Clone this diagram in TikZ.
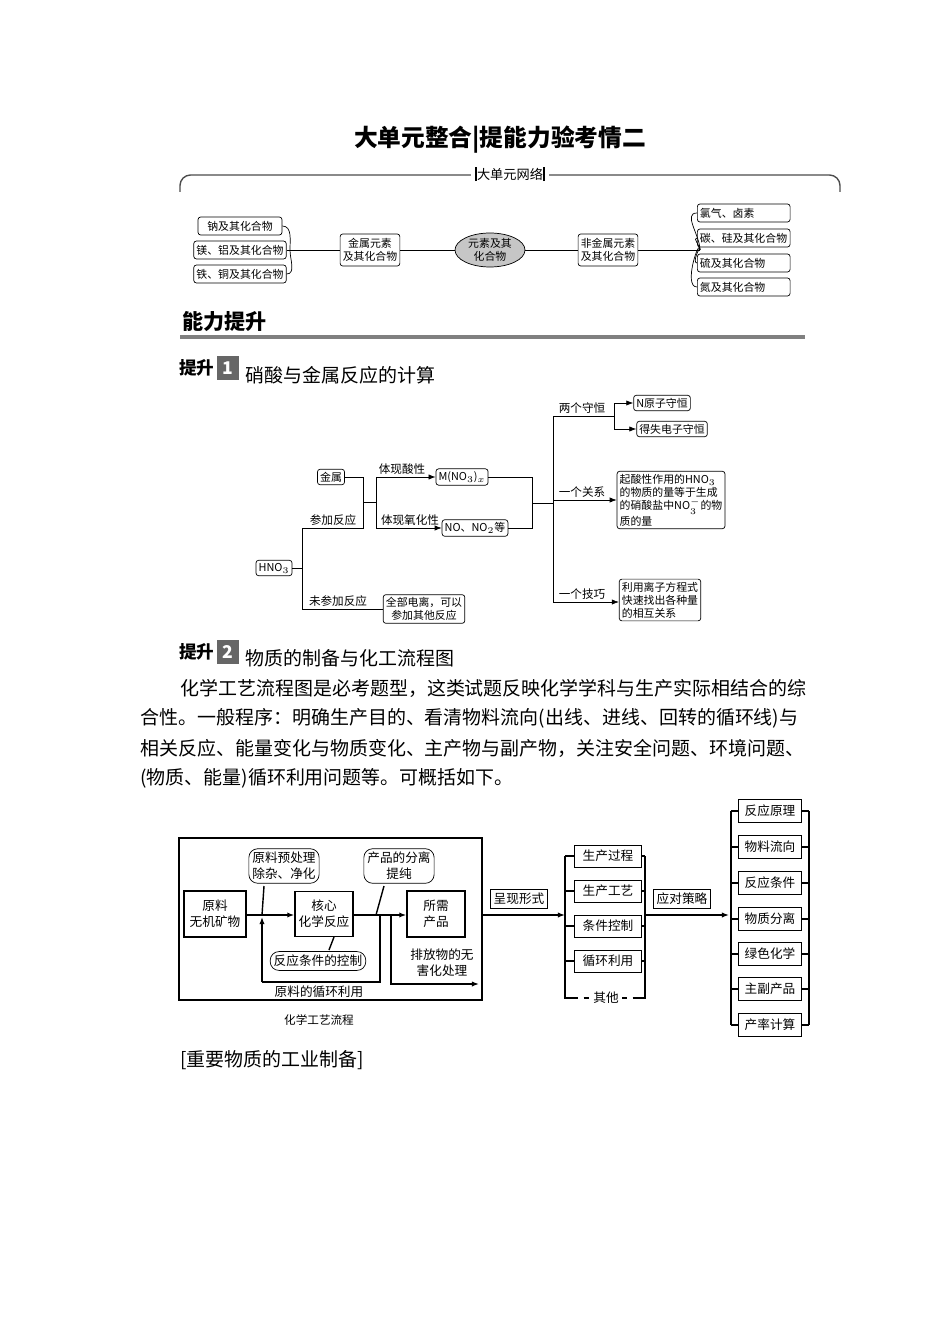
\documentclass[tikz,border=0pt]{standalone}
\usepackage{fontspec}
\setmainfont{Noto Sans CJK SC}
\usetikzlibrary{positioning,shapes.geometric,arrows.meta}

\begin{document}
\begin{tikzpicture}[x=0.02cm,y=-0.02cm,
    box/.style={draw, rounded corners=1.5pt, inner sep=1.5pt, font=\fontsize{6.2}{7.5}\selectfont, align=center},
    fbox/.style={draw, thick, inner sep=2pt, font=\fontsize{7.2}{9}\selectfont, align=center},
    lbl/.style={font=\fontsize{6.6}{8}\selectfont, inner sep=1pt},
    arr/.style={-{Latex[length=4pt,width=3pt]}},
    body/.style={anchor=west, font=\fontsize{10.8}{13}\selectfont, inner sep=0pt}]
  \useasboundingbox (0,0) rectangle (950,1344);

  % Title
  \node[font=\fontsize{13.5}{16}\selectfont\bfseries] (title) at (500,140) {大单元整合|提能力验考情二};

  % Unit network bracket
  \draw[gray!60!black, line width=0.8pt, rounded corners=6pt] (180,192) -- (180,175) -- (840,175) -- (840,192);
  \node[fill=white, font=\fontsize{7.5}{9}\selectfont, inner sep=2pt] (net) at (510,174) {\rule[-1pt]{1.2pt}{8pt}大单元网络\rule[-1pt]{1.2pt}{8pt}};

  % Unit network
  \node[box, minimum width=1.68cm, minimum height=0.36cm] (na) at (240,226) {钠及其化合物};
  \node[box, minimum width=1.68cm, minimum height=0.36cm] (mg) at (240,250) {镁、铝及其化合物};
  \node[box, minimum width=1.68cm, minimum height=0.36cm] (fe) at (240,274) {铁、铜及其化合物};
  \node[box, minimum height=0.64cm] (metal) at (370,250) {金属元素\\及其化合物};
  \node[ellipse, draw, fill=gray!45, minimum width=1.4cm, minimum height=0.68cm, inner sep=0pt, font=\fontsize{6.2}{7.5}\selectfont, align=center] (core) at (490,250) {元素及其\\化合物};
  \node[box, minimum height=0.64cm] (nonmetal) at (608,250) {非金属元素\\及其化合物};
  \node[box, anchor=west, text width=1.75cm, align=left, minimum height=0.36cm] (cl) at (697,213) {氯气、卤素};
  \node[box, anchor=west, text width=1.75cm, align=left, minimum height=0.36cm] (si) at (697,238) {碳、硅及其化合物};
  \node[box, anchor=west, text width=1.75cm, align=left, minimum height=0.36cm] (s) at (697,263) {硫及其化合物};
  \node[box, anchor=west, text width=1.75cm, align=left, minimum height=0.36cm] (n) at (697,287) {氮及其化合物};
  \coordinate (jl) at (290,250);
  \coordinate (jr) at (700,250);
  \draw (na.east) to[out=0,in=90] (jl) to[out=-90,in=0] (fe.east);
  \draw (mg.east) -- (metal.west) (metal.east) -- (core.west) (core.east) -- (nonmetal.west) (nonmetal.east) -- (jr);
  \foreach \b in {cl,si,s,n} \draw (jr) to[out=90,in=180] (\b.west);

  % Ability section
  \node[anchor=west, font=\fontsize{12}{14}\selectfont\bfseries, inner sep=0pt] (ability) at (182,322) {能力提升};
  \draw[gray, line width=2pt] (180,337) -- (805,337);

  % Part 1
  \node[anchor=west, font=\fontsize{10}{12}\selectfont\bfseries, inner sep=0pt] (p1) at (179,368) {提升\,\colorbox{gray!80!black}{\color{white}1}};
  \node[body] (p1t) at (245,375) {硝酸与金属反应的计算};

  \node[box] (hno) at (274,568) {HNO$_3$};
  \node[box] (jinshu) at (331,477) {金属};
  \node[box] (mno) at (462,477) {M(NO$_3$)$_x$};
  \node[box] (no) at (475,528) {NO、NO$_2$等};
  \node[box] (quanbu) at (424,609) {全部电离，可以\\参加其他反应};
  \node[box] (nat) at (662,403) {N原子守恒};
  \node[box] (dsh) at (672,429) {得失电子守恒};
  \node[box, align=left] (rel) at (671,500) {起酸性作用的HNO$_3$\\的物质的量等于生成\\的硝酸盐中NO$_3^-$的物\\质的量};
  \node[box, align=left] (tip) at (660,600) {利用离子方程式\\快速找出各种量\\的相互关系};
  \coordinate (a1) at (302,568);
  \coordinate (a2) at (363,502);
  \coordinate (a3) at (376,502);
  \coordinate (a4) at (532,503);
  \coordinate (a5) at (553,503);
  \coordinate (a6) at (614,416);
  \draw (hno.east) -- (a1) (a1 |- 0,528) -- (a1 |- 0,609) -- (quanbu.west |- 0,609);
  \draw (a1 |- 0,528) -- (363,528) -- (363,477) -- (jinshu.east);
  \draw (a2) -- (a3) (376,477) -- (376,528);
  \draw[arr] (376,477) -- (mno.west);
  \draw[arr] (376,528) -- (no.west);
  \draw (mno.east) -- (532,477) -- (532,528) -- (no.east);
  \draw (a4) -- (a5) (553,416) -- (553,602);
  \draw (553,416) -- (a6) (614,403) -- (614,429);
  \draw[arr] (614,403) -- (nat.west);
  \draw[arr] (614,429) -- (dsh.west);
  \draw[arr] (553,500) -- (rel.west |- 0,500);
  \draw[arr] (553,602) -- (tip.west |- 0,602);
  \node[lbl, above] (l1) at (333,528) {参加反应};
  \node[lbl, above] (l2) at (338,609) {未参加反应};
  \node[lbl, above] (l3) at (402,477) {体现酸性};
  \node[lbl, above] (l4) at (410,528) {体现氧化性};
  \node[lbl, above] (l5) at (582,416) {两个守恒};
  \node[lbl, above] (l6) at (582,500) {一个关系};
  \node[lbl, above] (l7) at (582,602) {一个技巧};

  % Part 2
  \node[anchor=west, font=\fontsize{10}{12}\selectfont\bfseries, inner sep=0pt] (p2) at (179,652) {提升\,\colorbox{gray!80!black}{\color{white}2}};
  \node[body] (p2t) at (245,658) {物质的制备与化工流程图};
  \node[body] (t1) at (180,688) {化学工艺流程图是必考题型，这类试题反映化学学科与生产实际相结合的综};
  \node[body] (t2) at (140,718) {合性。一般程序：明确生产目的、看清物料流向(出线、进线、回转的循环线)与};
  \node[body] (t3) at (140,748) {相关反应、能量变化与物质变化、主产物与副产物，关注安全问题、环境问题、};
  \node[body] (t4) at (140,778) {(物质、能量)循环利用问题等。可概括如下。};

  % Process diagram
  \draw[thick] (179,838) rectangle (482,1000);
  \node[fbox, minimum width=1.24cm, minimum height=0.92cm] (raw) at (215,914) {原料\\无机矿物};
  \node[fbox, minimum width=1.16cm, minimum height=0.9cm] (hexin) at (324,914) {核心\\化学反应};
  \node[fbox, minimum width=1.16cm, minimum height=0.92cm] (prod) at (436,914) {所需\\产品};
  \node[fbox, rounded corners=5pt, thin] (pre) at (284,866) {原料预处理\\除杂、净化};
  \node[fbox, rounded corners=5pt, thin] (sep) at (399,866) {产品的分离\\提纯};
  \node[fbox, rounded corners=5pt, thin] (ctrl) at (318,961) {反应条件的控制};
  \draw[thick] (264,886) -- (262,915);
  \draw[thick] (384,886) -- (376,915);
  \draw[thick] (329,950) -- (334,937);
  \draw[thick, arr] (raw.east |- 0,915) -- (hexin.west |- 0,915);
  \draw[thick, arr] (hexin.east |- 0,915) -- (prod.west |- 0,915);
  \draw[thick] (380,915) -- (380,982) -- (262,982);
  \draw[thick, arr] (262,982) -- (262,917);
  \draw[thick, arr] (391,915) -- (391,984) -- (479,984);
  \node[font=\fontsize{7.2}{9}\selectfont, align=center] (waste) at (442,963) {排放物的无\\害化处理};
  \node[font=\fontsize{7.2}{9}\selectfont] (recy) at (319,992) {原料的循环利用};
  \node[font=\fontsize{6.6}{8}\selectfont] (cap) at (319,1020) {化学工艺流程};

  \node[fbox, thin] (form) at (519,899) {呈现形式};
  \node[fbox, thin] (plan) at (682,899) {应对策略};
  \draw[thick, arr] (482,915) -- (565,915);
  \draw[thick, arr] (645,915) -- (729,915);

  % Middle bracket
  \foreach \t/\y [count=\i] in {生产过程/856, 生产工艺/891, 条件控制/926, 循环利用/961}
    \node[fbox, thin, minimum width=1.34cm, minimum height=0.44cm] (m\i) at (608,\y) {\t};
  \draw[thick] (565,856) -- (565,998) -- (573,998);
  \draw[thick] (645,856) -- (645,998) -- (637,998);
  \draw[thick, dashed] (573,998) -- (590,998) (622,998) -- (637,998);
  \node[font=\fontsize{7.2}{9}\selectfont] (other) at (606,998) {其他};
  \foreach \i in {1,...,4} \draw[thick] (565,0 |- m\i) -- (m\i.west) (m\i.east) -- (645,0 |- m\i);

  % Right bracket
  \foreach \t/\y [count=\i] in {反应原理/811, 物料流向/847, 反应条件/883, 物质分离/919, 绿色化学/954, 主副产品/989, 产率计算/1025}
    \node[fbox, thin, minimum width=1.26cm, minimum height=0.46cm] (r\i) at (770,\y) {\t};
  \draw[thick] (731,811) -- (731,1025) (809,811) -- (809,1025);
  \foreach \i in {1,...,7} \draw[thick] (731,0 |- r\i) -- (r\i.west) (r\i.east) -- (809,0 |- r\i);

  \node[body] (imp) at (180,1060) {[重要物质的工业制备]};
\end{tikzpicture}
\end{document}
